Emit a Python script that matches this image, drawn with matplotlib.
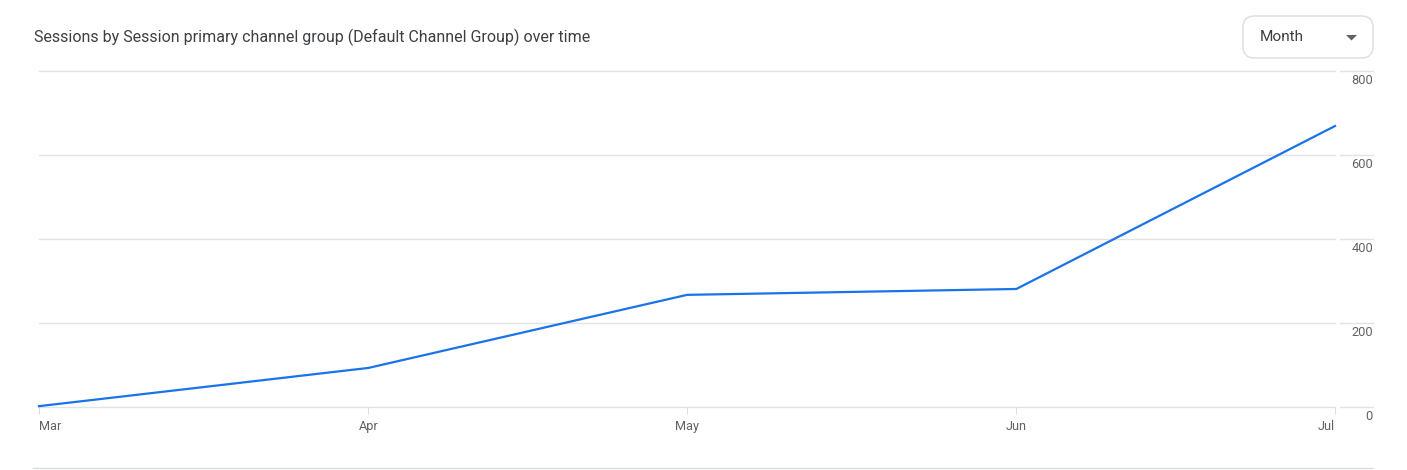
import datetime as dt
import matplotlib
matplotlib.use("Agg")
import matplotlib.pyplot as plt
import matplotlib.dates as mdates
from matplotlib.patches import FancyBboxPatch, Polygon

plt.rcParams['font.family'] = ['Roboto', 'DejaVu Sans']

# data
months = [dt.date(2024, 3, 1), dt.date(2024, 4, 1), dt.date(2024, 5, 1),
          dt.date(2024, 6, 1), dt.date(2024, 7, 1)]
month_labels = ['Mar', 'Apr', 'May', 'Jun', 'Jul']
sessions = [2, 93, 267, 281, 669]
y_ticks = [0, 200, 400, 600, 800]

title = 'Sessions by Session primary channel group (Default Channel Group) over time'

W, H = 1407, 470
fig = plt.figure(figsize=(W / 100, H / 100), dpi=100)
fig.patch.set_facecolor('white')

left, right = 39 / W, 1335 / W
bottom, top = 1 - 407 / H, 1 - 71 / H
ax = fig.add_axes([left, bottom, right - left, top - bottom])

x = mdates.date2num(months)
ax.plot(x, sessions, color='#1a73e8', lw=1.6, solid_joinstyle='round', zorder=3, clip_on=False)

ax.set_xlim(x[0], x[-1])
ax.set_ylim(0, 800)
for s in ax.spines.values():
    s.set_visible(False)

grid_c = '#e3e3e3'
tick_c = '#5f6368'
for v in y_ticks:
    ax.axhline(v, color=grid_c, lw=1.0, zorder=1, clip_on=False)
    ax.axhline(v, xmin=1.0039, xmax=1.0293, color=grid_c, lw=1.0, clip_on=False)
    ax.annotate(str(v), xy=(1.0293, v), xycoords=('axes fraction', 'data'),
                xytext=(0, -10), textcoords='offset pixels',
                ha='right', va='center', fontsize=9.2, color=tick_c)

ax.set_yticks([])
ax.set_xticks(x)
ax.set_xticklabels(month_labels)
ax.tick_params(axis='x', length=5, width=0.8, color='#dcdcdc', labelcolor=tick_c,
               labelsize=9.2, pad=4.5)
labels = ax.get_xticklabels()
labels[0].set_ha('left')
labels[-1].set_ha('right')

# title
fig.text(34 / W, 1 - 37 / H, title, ha='left', va='center', fontsize=11.5, color='#3c4043')

# "Month" dropdown
btn = FancyBboxPatch((1243 / W, 1 - 58 / H), 130 / W, 42 / H,
                     boxstyle='round,pad=0,rounding_size=0.008',
                     transform=fig.transFigure, facecolor='white',
                     edgecolor='#dadce0', lw=1.0, mutation_aspect=W / H)
fig.add_artist(btn)
fig.text(1260 / W, 1 - 37 / H, 'Month', ha='left', va='center', fontsize=11.1, color='#3c4043')
tri = Polygon([(1346 / W, 1 - 35 / H), (1357 / W, 1 - 35 / H), (1351.5 / W, 1 - 40.5 / H)],
              closed=True, transform=fig.transFigure, facecolor='#5f6368', edgecolor='none')
fig.add_artist(tri)

# bottom divider
fig.add_artist(plt.Line2D([33 / W, 1373 / W], [1 - 468 / H, 1 - 468 / H],
                          transform=fig.transFigure, color='#dadce0', lw=1.0))

fig.savefig('out.png', dpi=100, facecolor='white')
